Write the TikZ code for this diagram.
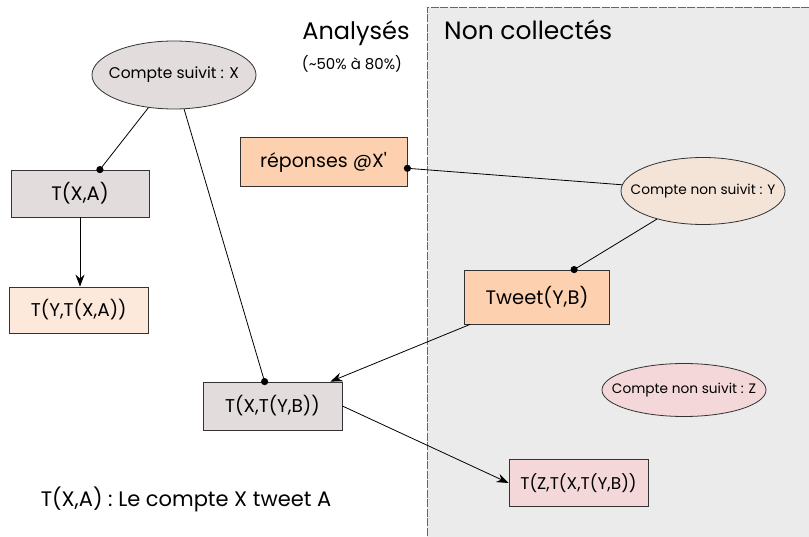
\documentclass[tikz,border=0pt]{standalone}
\usepackage{fontspec}
\setmainfont{Poppins}
\newfontfamily\rawfont{Poppins}[Ligatures=TeXOff]
\usetikzlibrary{shapes.geometric,arrows.meta,calc}
\definecolor{grayzone}{HTML}{EBEBEB}
\definecolor{cgray}{HTML}{E2DCDC}
\definecolor{cpeach}{HTML}{FDD1B0}
\definecolor{clpeach}{HTML}{FDE8DC}
\definecolor{cbeige}{HTML}{F4E4D8}
\definecolor{cpink}{HTML}{F3D7D9}
\definecolor{edge}{HTML}{333333}
\newcommand{\zw}[1]{\makebox[0pt][c]{#1}}
\tikzset{
  boxnode/.style={draw=edge, line width=0.8pt, rectangle, inner sep=0pt, font=\fontsize{18.5}{21}\selectfont},
  ellnode/.style={draw=edge, line width=0.8pt, ellipse, inner sep=0pt, font=\fontsize{15.5}{17}\selectfont},
  conn/.style={draw=black, line width=0.8pt},
  arr/.style={conn, -{Stealth[length=12pt,width=9pt,inset=4pt]}},
  plain/.style={inner sep=0pt}
}
\begin{document}
\begin{tikzpicture}[x=1pt,y=-1pt]
\useasboundingbox (0,0) rectangle (809,537);
\fill[white] (0,0) rectangle (809,537);
% zone non collectee
\fill[grayzone] (427,7) rectangle (809,537);
\draw[gray!80!black, line width=0.8pt, dash pattern=on 8pt off 1.5pt] (809,7) -- (427,7) -- (427,537);

\node[plain, anchor=base, font=\fontsize{24}{27}\selectfont] (an) at (356,40) {Analysés};
\node[plain, font=\fontsize{15}{17}\selectfont] (pct) at (352,64) {(\textasciitilde 50\% à 80\%)};
\node[plain, anchor=base west, font=\fontsize{25}{28}\selectfont] (nc) at (444,40) {Non collectés};

\node[ellnode, fill=cgray, minimum width=164pt, minimum height=68pt] (cx) at (174,75) {\zw{Compte suivit : X}};
\node[boxnode, fill=cgray, minimum width=138pt, minimum height=47pt, font=\fontsize{19.5}{22}\selectfont] (txa) at (80,193.5) {T(X,A)};
\node[boxnode, fill=clpeach, minimum width=139pt, minimum height=46pt] (tyx) at (78.7,310) {T(Y,T(X,A))};
\node[boxnode, fill=cpeach, minimum width=167pt, minimum height=49pt, font=\rawfont\fontsize{19}{22}\selectfont] (rep) at (323.5,162) {réponses @X'};
\node[ellnode, fill=cbeige, minimum width=164pt, minimum height=67pt, font=\fontsize{13.7}{16}\selectfont] (cy) at (703,191) {\zw{Compte non suivit : Y}};
\node[boxnode, fill=cpeach, minimum width=145pt, minimum height=54pt, font=\fontsize{19.5}{22}\selectfont] (tw) at (537,297) {Tweet(Y,B)};
\node[boxnode, fill=cgray, minimum width=139pt, minimum height=48pt] (txy) at (272.5,406) {T(X,T(Y,B))};
\node[ellnode, fill=cpink, minimum width=164pt, minimum height=53pt, font=\fontsize{13.7}{16}\selectfont] (cz) at (684,390) {\zw{Compte non suivit : Z}};
\node[boxnode, fill=cpink, minimum width=139pt, minimum height=47pt, font=\fontsize{17}{20}\selectfont] (tz) at (578.5,483) {T(Z,T(X,T(Y,B))};

\node[plain, font=\fontsize{21}{24}\selectfont] (leg) at (186,499) {T(X,A) : Le compte X tweet A};

% connection points
\coordinate (dA) at ($(txa.north west)+(89.3,0)$);
\coordinate (dB) at ($(txy.north west)+(62,0)$);
\coordinate (dR) at ($(rep.east)+(0,6.3)$);
\coordinate (dT) at ($(tw.north west)+(110,0)$);
\coordinate (sT) at ($(tw.south west)+(6,0)$);
\coordinate (eB) at ($(txy.north east)+(-12,0)$);

\draw[conn] (cx) -- (dA);
\fill (dA) circle (3.6pt);
\draw[conn] (cx) -- (dB);
\fill (dB) circle (3.6pt);
\draw[conn] (cy) -- (dR);
\fill (dR) circle (3.6pt);
\draw[conn] (cy) -- (dT);
\fill (dT) circle (3.6pt);
\draw[arr] (txa.south) -- (txa.south |- tyx.north);
\draw[arr] (sT) -- (eB);
\draw[arr] (txy.east) -- (tz.west);
\end{tikzpicture}
\end{document}
